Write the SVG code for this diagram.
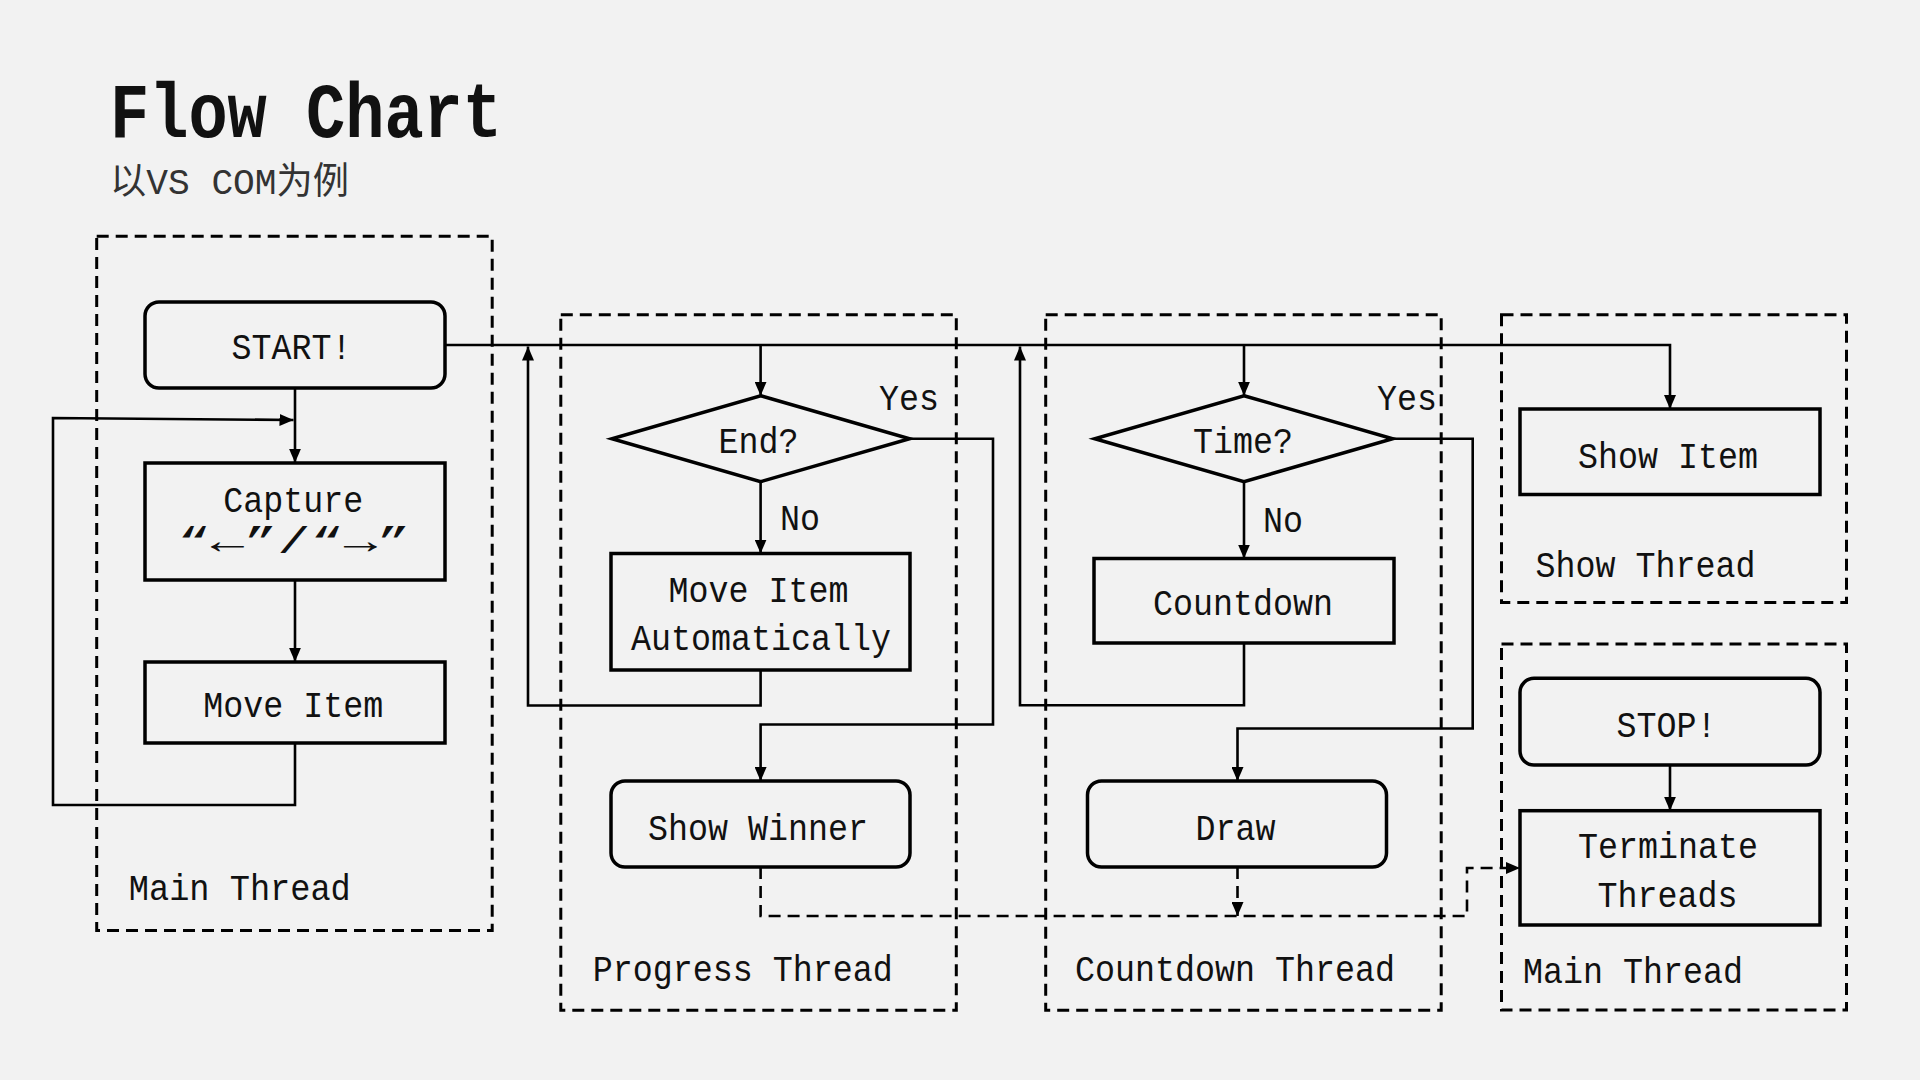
<svg xmlns="http://www.w3.org/2000/svg" width="1920" height="1080" viewBox="0 0 1920 1080">
<defs>
<style>
.bg{fill:#f2f2f2}
.thread{fill:none;stroke:#000;stroke-width:3;stroke-dasharray:12 7}
.box{fill:#f2f2f2;stroke:#000;stroke-width:3.5}
.con{fill:none;stroke:#000;stroke-width:2.6}
.dcon{fill:none;stroke:#000;stroke-width:2.6;stroke-dasharray:12 7}
.t{font-family:"Liberation Mono","DejaVu Sans Mono",monospace;font-size:37px;fill:#111}
.title{font-family:"Liberation Mono","DejaVu Sans Mono",monospace;font-size:78px;font-weight:bold;fill:#111}
.sub{font-family:"Liberation Mono","Noto Sans CJK SC",monospace;font-size:37px;fill:#333}
</style>
<marker id="arr" markerUnits="userSpaceOnUse" viewBox="0 0 14 12" refX="14" refY="6" markerWidth="14" markerHeight="12" orient="auto">
<path d="M0,0 L14,6 L0,12 z" fill="#000"/>
</marker>
</defs>
<rect class="bg" x="0" y="0" width="1920" height="1080"/>

<g id="title">
<text class="title" x="110" y="137" textLength="392" lengthAdjust="spacingAndGlyphs">Flow Chart</text>
<text class="sub" x="110" y="194" textLength="239" lengthAdjust="spacingAndGlyphs">以VS COM为例</text>
</g>

<g id="main-thread-left">
<rect class="thread" x="96.7" y="236.3" width="395.5" height="694.3"/>
<text class="t" x="128.8" y="900" textLength="222" lengthAdjust="spacingAndGlyphs">Main Thread</text>
</g>
<g id="progress-thread">
<rect class="thread" x="560.8" y="314.7" width="395.5" height="695.5"/>
<text class="t" x="592.7" y="981" textLength="300" lengthAdjust="spacingAndGlyphs">Progress Thread</text>
</g>
<g id="countdown-thread">
<rect class="thread" x="1045.7" y="314.7" width="395.5" height="695.5"/>
<text class="t" x="1075" y="981" textLength="320" lengthAdjust="spacingAndGlyphs">Countdown Thread</text>
</g>
<g id="show-thread">
<rect class="thread" x="1501.5" y="314.7" width="345" height="287.8"/>
<text class="t" x="1535.5" y="577" textLength="220" lengthAdjust="spacingAndGlyphs">Show Thread</text>
</g>
<g id="main-thread-right">
<rect class="thread" x="1501.5" y="644" width="345" height="366"/>
<text class="t" x="1523" y="983" textLength="220" lengthAdjust="spacingAndGlyphs">Main Thread</text>
</g>

<g id="connectors">
<polyline class="con" points="445,345 1670,345 1670,409" marker-end="url(#arr)"/>
<polyline class="con" points="760.6,345 760.6,395.7" marker-end="url(#arr)"/>
<polyline class="con" points="1244,345 1244,395.7" marker-end="url(#arr)"/>
<polyline class="con" points="295,388 295,462.7" marker-end="url(#arr)"/>
<polyline class="con" points="295,580 295,661.7" marker-end="url(#arr)"/>
<polyline class="con" points="295,742.7 295,805 53,805 53,418 293.5,420" marker-end="url(#arr)"/>
<polyline class="con" points="760.6,481.7 760.6,553.5" marker-end="url(#arr)"/>
<polyline class="con" points="760.6,670 760.6,705.5 528,705.5 528,346.5" marker-end="url(#arr)"/>
<polyline class="con" points="909.6,438.7 993,438.7 993,724.5 760.6,724.5 760.6,781" marker-end="url(#arr)"/>
<polyline class="con" points="1244,481.7 1244,558.5" marker-end="url(#arr)"/>
<polyline class="con" points="1244,643 1244,705.3 1020,705.3 1020,346.5" marker-end="url(#arr)"/>
<polyline class="con" points="1392.7,438.7 1472.7,438.7 1472.7,728.5 1237.5,728.5 1237.5,781" marker-end="url(#arr)"/>
<polyline class="con" points="1670,765 1670,810.7" marker-end="url(#arr)"/>
<polyline class="dcon" points="760.6,867 760.6,916 1467,916 1467,868 1520,868" marker-end="url(#arr)"/>
<polyline class="dcon" points="1237.5,867 1237.5,916" marker-end="url(#arr)"/>
<text class="t" x="879" y="410" textLength="60" lengthAdjust="spacingAndGlyphs">Yes</text>
<text class="t" x="780" y="530" textLength="40" lengthAdjust="spacingAndGlyphs">No</text>
<text class="t" x="1377" y="410" textLength="60" lengthAdjust="spacingAndGlyphs">Yes</text>
<text class="t" x="1263" y="531.7" textLength="40" lengthAdjust="spacingAndGlyphs">No</text>
</g>

<g id="start">
<rect class="box" x="145" y="302" width="300" height="86" rx="14"/>
<text class="t" x="291.4" y="359" text-anchor="middle" textLength="120" lengthAdjust="spacingAndGlyphs">START!</text>
</g>
<g id="capture">
<rect class="box" x="145" y="463" width="300" height="117"/>
<text class="t" x="293.3" y="511.5" text-anchor="middle" textLength="140" lengthAdjust="spacingAndGlyphs">Capture</text>
<text class="t" x="293.9" y="553" text-anchor="middle" textLength="233" lengthAdjust="spacingAndGlyphs">“←”/“→”</text>
</g>
<g id="move-item">
<rect class="box" x="145" y="662" width="300" height="81"/>
<text class="t" x="293.3" y="717" text-anchor="middle" textLength="180" lengthAdjust="spacingAndGlyphs">Move Item</text>
</g>
<g id="end">
<polygon class="box" points="760.6,395.7 909.6,438.7 760.6,481.7 611.9,438.7"/>
<text class="t" x="758.6" y="453" text-anchor="middle" textLength="80" lengthAdjust="spacingAndGlyphs">End?</text>
</g>
<g id="move-item-auto">
<rect class="box" x="611" y="553.5" width="299" height="116.5"/>
<text class="t" x="758.6" y="601.5" text-anchor="middle" textLength="180" lengthAdjust="spacingAndGlyphs">Move Item</text>
<text class="t" x="761" y="650" text-anchor="middle" textLength="260" lengthAdjust="spacingAndGlyphs">Automatically</text>
</g>
<g id="show-winner">
<rect class="box" x="611" y="781" width="299" height="86" rx="14"/>
<text class="t" x="758" y="840" text-anchor="middle" textLength="220" lengthAdjust="spacingAndGlyphs">Show Winner</text>
</g>
<g id="time">
<polygon class="box" points="1244,395.7 1392.7,438.7 1244,481.7 1094.7,438.7"/>
<text class="t" x="1243" y="453" text-anchor="middle" textLength="100" lengthAdjust="spacingAndGlyphs">Time?</text>
</g>
<g id="countdown">
<rect class="box" x="1094" y="558.5" width="300" height="84.5"/>
<text class="t" x="1243" y="615" text-anchor="middle" textLength="180" lengthAdjust="spacingAndGlyphs">Countdown</text>
</g>
<g id="draw">
<rect class="box" x="1087.5" y="781" width="299" height="86" rx="14"/>
<text class="t" x="1235.5" y="840" text-anchor="middle" textLength="80" lengthAdjust="spacingAndGlyphs">Draw</text>
</g>
<g id="show-item">
<rect class="box" x="1520" y="409" width="300" height="85.5"/>
<text class="t" x="1668" y="468" text-anchor="middle" textLength="180" lengthAdjust="spacingAndGlyphs">Show Item</text>
</g>
<g id="stop">
<rect class="box" x="1520" y="678.3" width="300" height="86.7" rx="14"/>
<text class="t" x="1666.5" y="736.7" text-anchor="middle" textLength="100" lengthAdjust="spacingAndGlyphs">STOP!</text>
</g>
<g id="terminate-threads">
<rect class="box" x="1520" y="810.7" width="300" height="114.3"/>
<text class="t" x="1668" y="858" text-anchor="middle" textLength="180" lengthAdjust="spacingAndGlyphs">Terminate</text>
<text class="t" x="1667.5" y="906.7" text-anchor="middle" textLength="140" lengthAdjust="spacingAndGlyphs">Threads</text>
</g>
</svg>
